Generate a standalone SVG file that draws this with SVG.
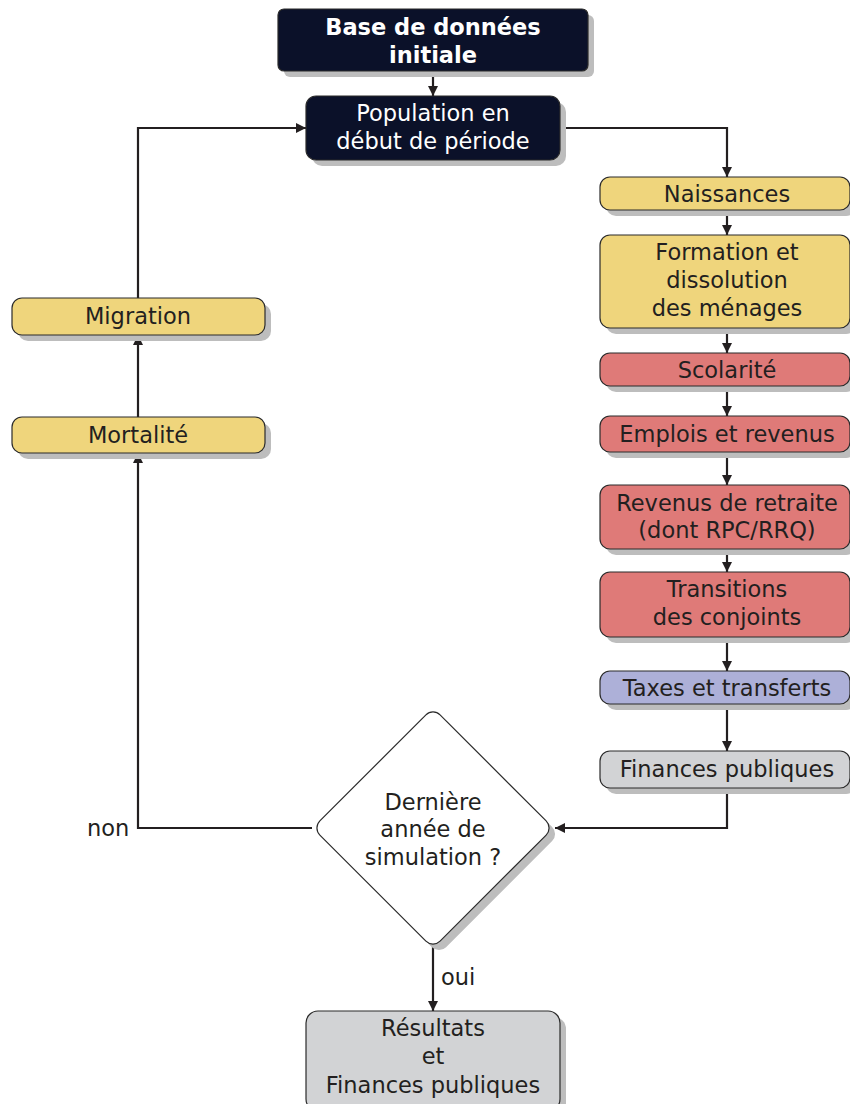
<svg xmlns="http://www.w3.org/2000/svg" width="850" height="1104" viewBox="0 0 850 1104">
<style>
.sh{fill:#bdbdbd}
.box{stroke:#2b2b2b;stroke-width:1.2}
.dark{fill:#0b1129}
.yel{fill:#efd57c}
.red{fill:#df7a78}
.blu{fill:#adb0d8}
.gry{fill:#d2d3d5}
.wht{fill:#ffffff}
text{font-family:"DejaVu Sans","Liberation Sans",sans-serif;font-size:22.5px;fill:#231f20;text-anchor:middle;dominant-baseline:central}
.lt{fill:#ffffff}
.bd{font-weight:bold;fill:#ffffff}
.lbl{text-anchor:start}
.con{fill:none;stroke:#231f20;stroke-width:2.2}
</style>
<defs>
<marker id="ah" viewBox="0 0 10 10" refX="10" refY="5" markerWidth="10" markerHeight="10" markerUnits="userSpaceOnUse" orient="auto">
<path d="M0,0 L10,5 L0,10 z" fill="#231f20"/>
</marker>
</defs>
<g id="connectors">
<path class="con" d="M433,71 V96" marker-end="url(#ah)"/>
<path class="con" d="M560,128 H727 V177" marker-end="url(#ah)"/>
<path class="con" d="M727,210 V235" marker-end="url(#ah)"/>
<path class="con" d="M727,328 V353" marker-end="url(#ah)"/>
<path class="con" d="M727,386 V416" marker-end="url(#ah)"/>
<path class="con" d="M727,452 V485" marker-end="url(#ah)"/>
<path class="con" d="M727,549 V572" marker-end="url(#ah)"/>
<path class="con" d="M727,637 V671" marker-end="url(#ah)"/>
<path class="con" d="M727,704 V751" marker-end="url(#ah)"/>
<path class="con" d="M727,788 V828 H555" marker-end="url(#ah)"/>
<path class="con" d="M312,828 H138 V453" marker-end="url(#ah)"/>
<path class="con" d="M138,417 V335" marker-end="url(#ah)"/>
<path class="con" d="M138,298 V128 H306" marker-end="url(#ah)"/>
<path class="con" d="M433,946 V1011" marker-end="url(#ah)"/>
<text class="lbl" x="441" y="977">oui</text>
<text class="lbl" x="87" y="828">non</text>
</g>
<g id="base">
<rect class="sh" x="284" y="15" width="310" height="62" rx="6"/>
<rect class="box dark" x="278" y="9" width="310" height="62" rx="6"/>
<text class="bd" x="433" y="27">Base de données</text>
<text class="bd" x="433" y="55">initiale</text>
</g>
<g id="population">
<rect class="sh" x="312" y="102" width="254" height="64" rx="10"/>
<rect class="box dark" x="306" y="96" width="254" height="64" rx="10"/>
<text class="lt" x="433" y="113">Population en</text>
<text class="lt" x="433" y="141">début de période</text>
</g>
<g id="naissances">
<rect class="sh" x="606" y="183" width="250" height="33" rx="10"/>
<rect class="box yel" x="600" y="177" width="250" height="33" rx="10"/>
<text x="727" y="193.5">Naissances</text>
</g>
<g id="formation">
<rect class="sh" x="606" y="241" width="250" height="93" rx="10"/>
<rect class="box yel" x="600" y="235" width="250" height="93" rx="10"/>
<text x="727" y="252">Formation et</text>
<text x="727" y="280">dissolution</text>
<text x="727" y="308">des ménages</text>
</g>
<g id="scolarite">
<rect class="sh" x="606" y="359" width="250" height="33" rx="10"/>
<rect class="box red" x="600" y="353" width="250" height="33" rx="10"/>
<text x="727" y="370">Scolarité</text>
</g>
<g id="emplois">
<rect class="sh" x="606" y="422" width="250" height="36" rx="10"/>
<rect class="box red" x="600" y="416" width="250" height="36" rx="10"/>
<text x="727" y="434">Emplois et revenus</text>
</g>
<g id="retraite">
<rect class="sh" x="606" y="491" width="250" height="64" rx="10"/>
<rect class="box red" x="600" y="485" width="250" height="64" rx="10"/>
<text x="727" y="503">Revenus de retraite</text>
<text x="727" y="530">(dont RPC/RRQ)</text>
</g>
<g id="transitions">
<rect class="sh" x="606" y="578" width="250" height="65" rx="10"/>
<rect class="box red" x="600" y="572" width="250" height="65" rx="10"/>
<text x="727" y="589">Transitions</text>
<text x="727" y="617">des conjoints</text>
</g>
<g id="taxes">
<rect class="sh" x="606" y="677" width="250" height="33" rx="10"/>
<rect class="box blu" x="600" y="671" width="250" height="33" rx="10"/>
<text x="727" y="688">Taxes et transferts</text>
</g>
<g id="finances">
<rect class="sh" x="606" y="757" width="250" height="37" rx="10"/>
<rect class="box gry" x="600" y="751" width="250" height="37" rx="10"/>
<text x="727" y="769">Finances publiques</text>
</g>
<g id="migration">
<rect class="sh" x="18" y="304" width="253" height="37" rx="10"/>
<rect class="box yel" x="12" y="298" width="253" height="37" rx="10"/>
<text x="138" y="316">Migration</text>
</g>
<g id="mortalite">
<rect class="sh" x="18" y="423" width="253" height="36" rx="10"/>
<rect class="box yel" x="12" y="417" width="253" height="36" rx="10"/>
<text x="138" y="435">Mortalité</text>
</g>
<g id="decision">
<rect class="sh" x="-85" y="-85" width="170" height="170" rx="10" transform="translate(439,834) rotate(45)"/>
<rect class="box wht" x="-85" y="-85" width="170" height="170" rx="10" transform="translate(433,828) rotate(45)"/>
<text x="433" y="802">Dernière</text>
<text x="433" y="829">année de</text>
<text x="433" y="857">simulation ?</text>
</g>
<g id="resultats">
<rect class="sh" x="312" y="1017" width="254" height="100" rx="12"/>
<rect class="box gry" x="306" y="1011" width="254" height="100" rx="12"/>
<text x="433" y="1028">Résultats</text>
<text x="433" y="1056">et</text>
<text x="433" y="1085">Finances publiques</text>
</g>
</svg>
